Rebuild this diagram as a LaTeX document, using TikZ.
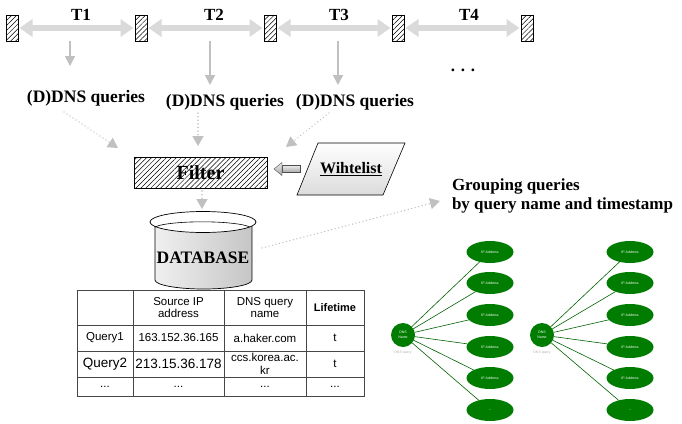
\documentclass[tikz,border=0pt]{standalone}
\usepackage{fontspec}
\setmainfont{Liberation Serif}
\setsansfont{Liberation Sans}
\usetikzlibrary{patterns.meta,arrows.meta,calc,shapes.geometric}
\definecolor{arrowgray}{RGB}{218,218,218}
\definecolor{linkgray}{RGB}{192,192,192}
\definecolor{nodegreen}{RGB}{0,124,0}
\definecolor{gridgray}{RGB}{70,70,70}
\newcommand{\leafdots}{...}
\begin{document}
\begin{tikzpicture}[x=1pt,y=-1pt,
  every node/.style={inner sep=0pt,outer sep=0pt},
  slotbox/.style={draw=black,line width=0.6pt,minimum width=12pt,minimum height=26pt,
    pattern={Lines[angle=45,distance=3.5pt,line width=0.5pt]}},
  period/.style={draw=arrowgray,line width=5.5pt,
    {Triangle[length=13pt,width=17pt]}-{Triangle[length=13pt,width=17pt]},
    shorten <=1.5pt,shorten >=1.5pt},
  periodlabel/.style={font=\bfseries\fontsize{17}{20}\selectfont},
  feed/.style={draw=linkgray,line width=1.6pt,-{Triangle[length=10pt,width=10pt]}},
  querylabel/.style={font=\bfseries\fontsize{17.5}{20}\selectfont},
  flow/.style={draw=linkgray,line width=1.4pt,line cap=round,dash pattern=on 0.1pt off 3.5pt,
    -{Triangle[length=10pt,width=11pt]}},
  filtertext/.style={font=\bfseries\fontsize{20}{22}\selectfont},
  cell/.style={font=\sffamily\fontsize{11.5}{12.5}\selectfont,align=center},
  bigcell/.style={font=\sffamily\fontsize{13.5}{14}\selectfont,align=center},
  hub/.style={circle,fill=nodegreen,minimum size=24pt,text=white,align=center,
    font=\sffamily\fontsize{3.5}{4.5}\selectfont},
  hubcap/.style={text=gray!60,font=\sffamily\fontsize{3.5}{4}\selectfont},
  leaf/.style={ellipse,fill=nodegreen,minimum width=47pt,minimum height=22pt,text=white,
    font=\sffamily\fontsize{3.5}{4}\selectfont},
  spoke/.style={draw=nodegreen!80!black,line width=0.6pt}
]
\useasboundingbox (0,0) rectangle (682,423);
\fill[white] (0,0) rectangle (682,423);

% time slots and periods
\node[slotbox] (b1) at (12,28) {};
\node[slotbox] (b2) at (141,28) {};
\node[slotbox] (b3) at (270,28) {};
\node[slotbox] (b4) at (398,28) {};
\node[slotbox] (b5) at (527,28) {};
\draw[period] (b1.east) -- (b2.west);
\draw[period] (b2.east) -- (b3.west);
\draw[period] (b3.east) -- (b4.west);
\draw[period] (b4.east) -- (b5.west);
\node[periodlabel] (t1) at (81,15) {T1};
\node[periodlabel] (t2) at (214,15) {T2};
\node[periodlabel] (t3) at (339,15) {T3};
\node[periodlabel] (t4) at (469,15) {T4};
\node[periodlabel] (more) at (463,70) {. . .};

% queries emitted in each period
\coordinate (s1) at (70,41);  \coordinate (e1) at (70,66);
\coordinate (s2) at (210,41); \coordinate (e2) at (210,85);
\coordinate (s3) at (338,41); \coordinate (e3) at (338,85);
\draw[feed] (s1) -- (e1);
\draw[feed] (s2) -- (e2);
\draw[feed] (s3) -- (e3);
\node[querylabel] (q1) at (86,98) {(D)DNS queries};
\node[querylabel] (q2) at (225,102) {(D)DNS queries};
\node[querylabel] (q3) at (355,102) {(D)DNS queries};

% filter
\node[draw=black,line width=0.8pt,minimum width=133pt,minimum height=31pt,
  pattern={Lines[angle=45,distance=3.5pt,line width=0.5pt]}] (filter) at (200.5,172.5) {};
\node[filtertext] (ftext) at (filter.center) {Filter};

\coordinate (q1o) at (64,112);  \coordinate (q1i) at (118,148);
\coordinate (q2o) at (198,113); \coordinate (q2i) at (198,146);
\coordinate (q3o) at (329,113); \coordinate (q3i) at (286,147);
\draw[flow] (q1o) -- (q1i);
\draw[flow] (q2o) -- (q2i);
\draw[flow] (q3o) -- (q3i);

% whitelist
\coordinate (w1) at (318,143); \coordinate (w2) at (405,143);
\coordinate (w3) at (383,195); \coordinate (w4) at (297,195);
\path[draw=black,line width=0.6pt,top color=white,bottom color=gray!28] (w1) -- (w2) -- (w3) -- (w4) -- cycle;
\node[font=\bfseries\fontsize{16}{18}\selectfont] (wl) at (351,169) {\underline{Wihtelist}};
\path[draw=gray!60!black,line width=0.4pt,top color=gray!15,bottom color=gray!70] (282,165.5) rectangle (300,172.5);
\path[draw=gray!60!black,line width=0.4pt,top color=gray!15,bottom color=gray!70] (282,162.5) -- (274,169) -- (282,175.5) -- cycle;

% database: a drum whose rolled rim is wider than its body
\path[draw=black,line width=0.7pt,left color=gray!12,middle color=white,right color=gray!45]
  (155,224) -- (155,280) arc[start angle=180,end angle=0,x radius=48.5,y radius=9] -- (252,224) -- cycle;
\path[draw=black,line width=0.7pt,fill=white] (203,222) ellipse[x radius=53,y radius=10.5];
\draw[line width=0.6pt] (155,227) arc[start angle=165,end angle=15,x radius=49,y radius=-7];
\node[font=\bfseries\fontsize{17.5}{20}\selectfont] (db) at (203,258) {DATABASE};
\coordinate (fo) at (202,191); \coordinate (dbtop) at (202,209);
\draw[flow] (fo) -- (dbtop);

% grouping
\node[anchor=west,align=left,font=\bfseries\fontsize{17}{19}\selectfont] (grp) at (452,196)
  {Grouping queries\\by query name and timestamp};
\coordinate (dbo) at (262,248); \coordinate (grpi) at (440,201);
\draw[flow] (dbo) -- (grpi);

% table
\draw[gridgray,line width=1pt] (77,290) rectangle (364,396);
\foreach \cx in {133,224,306} \draw[gridgray,line width=1pt] (\cx,290) -- (\cx,396);
\foreach \ry in {325,351,377} \draw[gridgray,line width=1pt] (77,\ry) -- (364,\ry);
\node[cell] (h2) at (178.5,307.5) {Source IP\\address};
\node[cell] (h3) at (265,307.5) {DNS query\\name};
\node[cell,font=\sffamily\bfseries\fontsize{11}{12}\selectfont] (h4) at (335,307.5) {Lifetime};
\node[cell] (r11) at (105,338) {Query1};
\node[cell] (r12) at (178.5,338) {163.152.36.165};
\node[cell] (r13) at (265,338) {a.haker.com};
\node[cell] (r14) at (335,338) {t};
\node[bigcell] (r21) at (105,364) {Query2};
\node[bigcell] (r22) at (178.5,364) {213.15.36.178};
\node[cell] (r23) at (265,364) {ccs.korea.ac.\\kr};
\node[cell] (r24) at (335,364) {t};
\node[cell] (r31) at (105,386.5) {\leafdots};
\node[cell] (r32) at (178.5,386.5) {\leafdots};
\node[cell] (r33) at (265,386.5) {\leafdots};
\node[cell] (r34) at (335,386.5) {\leafdots};

% query-name groups
\foreach \g/\cx/\ex in {L/403/490,R/542/630} {
  \node[hub] (hub\g) at (\cx,335) {DNS\\Name};
  \node[hubcap] (cap\g) at (\cx,353) {DNS query};
  \foreach \i/\y/\t in {1/252/IP Address,2/283/IP Address,3/315/IP Address,
                        4/347/IP Address,5/378/IP Address,6/410/\leafdots} {
    \node[leaf] (leaf\g\i) at (\ex,\y) {\t};
    \draw[spoke] (hub\g) -- (leaf\g\i);
  }
}
\end{tikzpicture}
\end{document}
